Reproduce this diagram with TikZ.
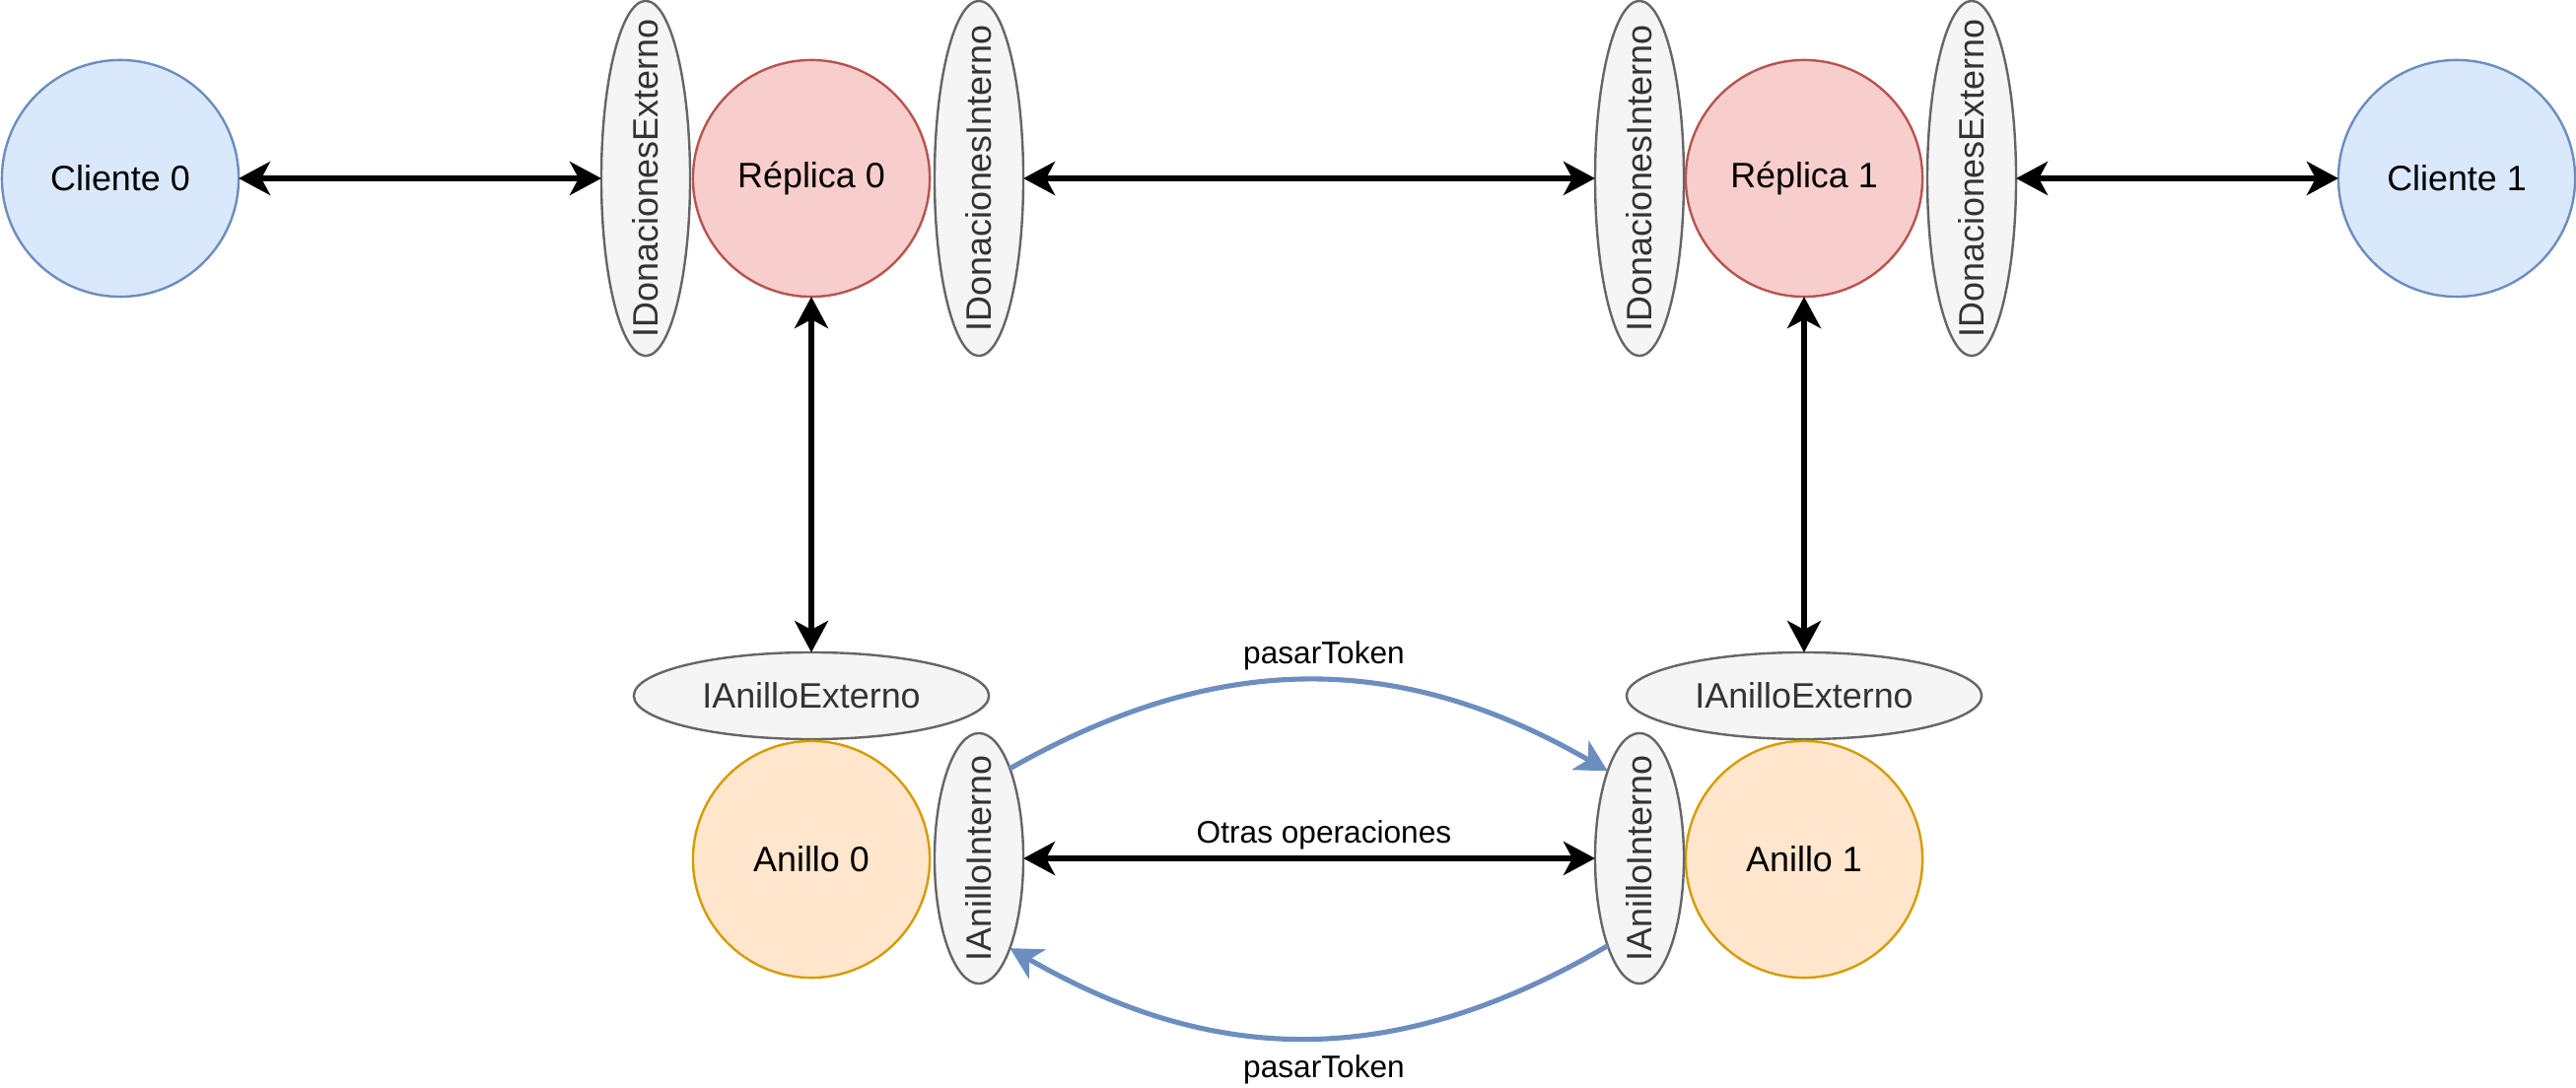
\documentclass[tikz,border=0pt]{standalone}
\usepackage{fontspec}
\setmainfont{Liberation Sans}
\usetikzlibrary{arrows.meta,shapes.geometric}
\definecolor{bluefill}{HTML}{DAE8FC}
\definecolor{bluedraw}{HTML}{6C8EBF}
\definecolor{redfill}{HTML}{F8CECC}
\definecolor{reddraw}{HTML}{B85450}
\definecolor{orfill}{HTML}{FFE6CC}
\definecolor{ordraw}{HTML}{D79B00}
\definecolor{grfill}{HTML}{F5F5F5}
\definecolor{grdraw}{HTML}{666666}
\definecolor{grtext}{HTML}{333333}
\tikzset{
  every node/.style={inner sep=0pt, outer sep=0pt},
  nodefont/.style={font=\fontsize{10.2}{12}\selectfont},
  labelfont/.style={font=\fontsize{9}{11}\selectfont},
  comp/.style={circle, minimum size=24mm, line width=0.24mm, nodefont},
  cliente/.style={comp, draw=bluedraw, fill=bluefill},
  replica/.style={comp, draw=reddraw, fill=redfill},
  anillo/.style={comp, draw=ordraw, fill=orfill},
  iface/.style={ellipse, draw=grdraw, fill=grfill, line width=0.24mm, text=grtext, nodefont},
  donface/.style={iface, minimum width=9mm, minimum height=36mm},
  anilloint/.style={iface, minimum width=9mm, minimum height=25.4mm},
  anilloext/.style={iface, minimum width=36mm, minimum height=8.8mm},
  rottext/.style={rotate=90, text=grtext, nodefont},
  biarrow/.style={line width=1.5pt, draw=black,
    arrows={Stealth[length=3.2mm,width=3.4mm,inset=0.9mm]-Stealth[length=3.2mm,width=3.4mm,inset=0.9mm]}},
  tokenarrow/.style={line width=1.45pt, draw=bluedraw,
    arrows={-Stealth[length=3.2mm,width=3.4mm,inset=0.9mm]}},
  edgelabel/.style={anchor=base, labelfont}
}
\begin{document}
\begin{tikzpicture}[x=0.01cm, y=-0.01cm]
\useasboundingbox (0,0) rectangle (2613,1104);

% top row
\node[cliente] (c0) at (122,181) {Cliente 0};
\node[donface] (de0) at (655,181) {};
\node[rottext] (tde0) at (de0.center) {IDonacionesExterno};
\node[replica] (r0) at (823,181) {Réplica 0};
\node[donface] (di0) at (993,181) {};
\node[rottext] (tdi0) at (di0.center) {IDonacionesInterno};

\node[donface] (di1) at (1663,181) {};
\node[rottext] (tdi1) at (di1.center) {IDonacionesInterno};
\node[replica] (r1) at (1830,181) {Réplica 1};
\node[donface] (de1) at (2000,181) {};
\node[rottext] (tde1) at (de1.center) {IDonacionesExterno};
\node[cliente] (c1) at (2492,181) {Cliente 1};

% bottom row
\node[anilloext] (ae0) at (823,706) {IAnilloExterno};
\node[anillo] (a0) at (823,872) {Anillo 0};
\node[anilloint] (ai0) at (993,871) {};
\node[rottext] (tai0) at (ai0.center) {IAnilloInterno};

\node[anilloext] (ae1) at (1830,706) {IAnilloExterno};
\node[anillo] (a1) at (1830,872) {Anillo 1};
\node[anilloint] (ai1) at (1663,871) {};
\node[rottext] (tai1) at (ai1.center) {IAnilloInterno};

% connectors
\draw[biarrow] (c0.east) -- (de0.west);
\draw[biarrow] (di0.east) -- (di1.west);
\draw[biarrow] (de1.east) -- (c1.west);
\draw[biarrow] (r0.south) -- (ae0.north);
\draw[biarrow] (r1.south) -- (ae1.north);
\draw[biarrow] (ai0.east) -- (ai1.west);

\draw[tokenarrow] (ai0.71) .. controls (1235,660) and (1419,660) .. (ai1.110);
\draw[tokenarrow] (ai1.250) .. controls (1419,1084) and (1235,1084) .. (ai0.289);

% labels
\node[edgelabel] (l1) at (1343,674) {pasarToken};
\node[edgelabel] (l2) at (1343,855) {Otras operaciones};
\node[edgelabel] (l3) at (1343,1093) {pasarToken};
\end{tikzpicture}
\end{document}
